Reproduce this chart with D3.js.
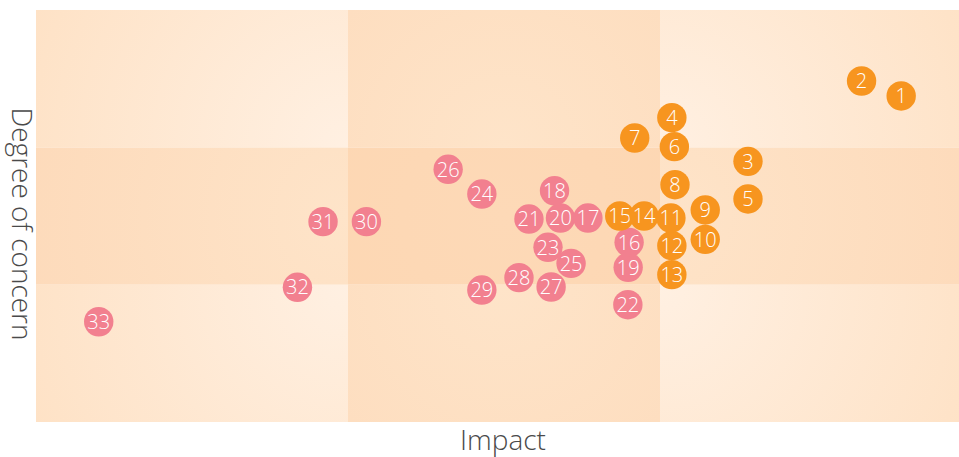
<!DOCTYPE html>
<html>
<head>
<meta charset="utf-8">
<title>Impact vs degree of concern</title>
<script src="https://cdn.jsdelivr.net/npm/d3@7"></script>
<style>
  body { margin: 0; background: #fff; }
  svg text { font-family: 'Segoe UI Light', 'Open Sans', sans-serif; font-weight: 300; }
  .axis-title { fill: #4a4a4a; font-size: 28px; }
  .bubble text { fill: #fff; font-size: 20px; }
</style>
</head>
<body>
<div id="chart"></div>
<script>
  // bubble data: id, impact (0-3), degree of concern (0-3)
  var ids = [1, 2, 3, 4, 5, 6, 7, 8, 9, 10, 11, 12, 13, 14, 15, 16, 17,
             18, 19, 20, 21, 22, 23, 24, 25, 26, 27, 28, 29, 30, 31, 32, 33];
  var impact = [2.773, 2.646, 2.282, 2.038, 2.282, 2.046, 1.919, 2.048, 2.145, 2.145, 2.035,
                2.038, 2.038, 1.949, 1.871, 1.901, 1.769, 1.662, 1.898, 1.681, 1.580, 1.897,
                1.641, 1.429, 1.715, 1.321, 1.651, 1.548, 1.429, 1.059, 0.920, 0.838, 0.201];
  var concern = [2.374, 2.483, 1.898, 2.216, 1.624, 2.005, 2.068, 1.728, 1.544, 1.330, 1.485,
                 1.284, 1.073, 1.500, 1.500, 1.308, 1.485, 1.684, 1.126, 1.485, 1.478, 0.854,
                 1.272, 1.660, 1.155, 1.840, 0.983, 1.051, 0.961, 1.459, 1.459, 0.981, 0.730];
  // first 15 are the high-priority group
  var groups = ids.map(function(d) { return d <= 15 ? 'high' : 'low'; });
  var zones = [0, 1, 2];

  var width = 959, height = 457;
  var margin = {left: 36, top: 10, bottom: 35};
  var plotW = 936;   // right column runs past the window edge
  var color = d3.scaleOrdinal().domain(['high', 'low']).range(['#f7951f', '#f2808f']);

  var x = d3.scaleLinear().domain([0, 3]).range([margin.left, margin.left + plotW]);
  var y = d3.scaleLinear().domain([0, 3]).range([height - margin.bottom, margin.top]);

  var svg = d3.select('#chart').append('svg')
      .attr('width', width)
      .attr('height', height);

  // background cells, each lighter toward the middle of the chart
  var cells = [];
  zones.forEach(function(i) {
    zones.forEach(function(j) {
      cells.push({i: i, j: j});
    });
  });
  var defs = svg.append('defs');
  cells.forEach(function(c, k) {
    var x0 = x(c.i), x1 = x(c.i + 1), y0 = y(c.j + 1), y1 = y(c.j);
    var cx = c.i === 0 ? x1 : (c.i === 2 ? x0 : (x0 + x1) / 2);
    var cy = c.j === 0 ? y0 : (c.j === 2 ? y1 : (y0 + y1) / 2);
    var kind = (c.i === 1 ? 1 : 0) + (c.j === 1 ? 1 : 0); // 0 corner, 1 edge, 2 centre
    var stops = [['#fff0e2', '#fee2c6'], ['#fee4c9', '#fddaba'], ['#fdd9b7', '#fdd7b3']][kind];
    var r = kind === 2 ? 200 : Math.sqrt((x1 - x0) * (x1 - x0) + (y1 - y0) * (y1 - y0));
    var g = defs.append('radialGradient')
        .attr('id', 'cell' + k)
        .attr('gradientUnits', 'userSpaceOnUse')
        .attr('cx', cx).attr('cy', cy).attr('r', r);
    g.append('stop').attr('offset', '0%').attr('stop-color', stops[0]);
    g.append('stop').attr('offset', '100%').attr('stop-color', stops[1]);
    c.x0 = x0; c.y0 = y0; c.w = x1 - x0; c.h = y1 - y0; c.k = k;
  });
  svg.selectAll('rect.cell')
      .data(cells)
      .enter()
      .append('rect')
      .attr('class', 'cell')
      .attr('x', function(c) { return c.x0; })
      .attr('y', function(c) { return c.y0; })
      .attr('width', function(c) { return c.w; })
      .attr('height', function(c) { return c.h; })
      .attr('fill', function(c) { return 'url(#cell' + c.k + ')'; });

  // bubbles, drawn from last to first so the low numbers sit on top
  var points = ids.map(function(id, i) {
    return {id: id, x: impact[i], y: concern[i], group: groups[i]};
  }).reverse();

  var bubble = svg.selectAll('.bubble')
      .data(points)
      .enter()
      .append('g')
      .attr('class', 'bubble')
      .attr('transform', function(d) {
        return 'translate(' + x(d.x) + ',' + y(d.y) + ')';
      });
  bubble.append('circle')
      .attr('r', 14.7)
      .attr('fill', function(d) { return color(d.group); });
  bubble.append('text')
      .attr('text-anchor', 'middle')
      .attr('dy', '0.36em')
      .text(function(d) { return d.id; });

  // axis titles
  svg.append('text')
      .attr('class', 'axis-title')
      .attr('text-anchor', 'middle')
      .attr('transform', 'translate(12,224) rotate(90)')
      .text('Degree of concern');
  svg.append('text')
      .attr('class', 'axis-title')
      .attr('text-anchor', 'middle')
      .attr('x', 503)
      .attr('y', 450)
      .text('Impact');
</script>
</body>
</html>
